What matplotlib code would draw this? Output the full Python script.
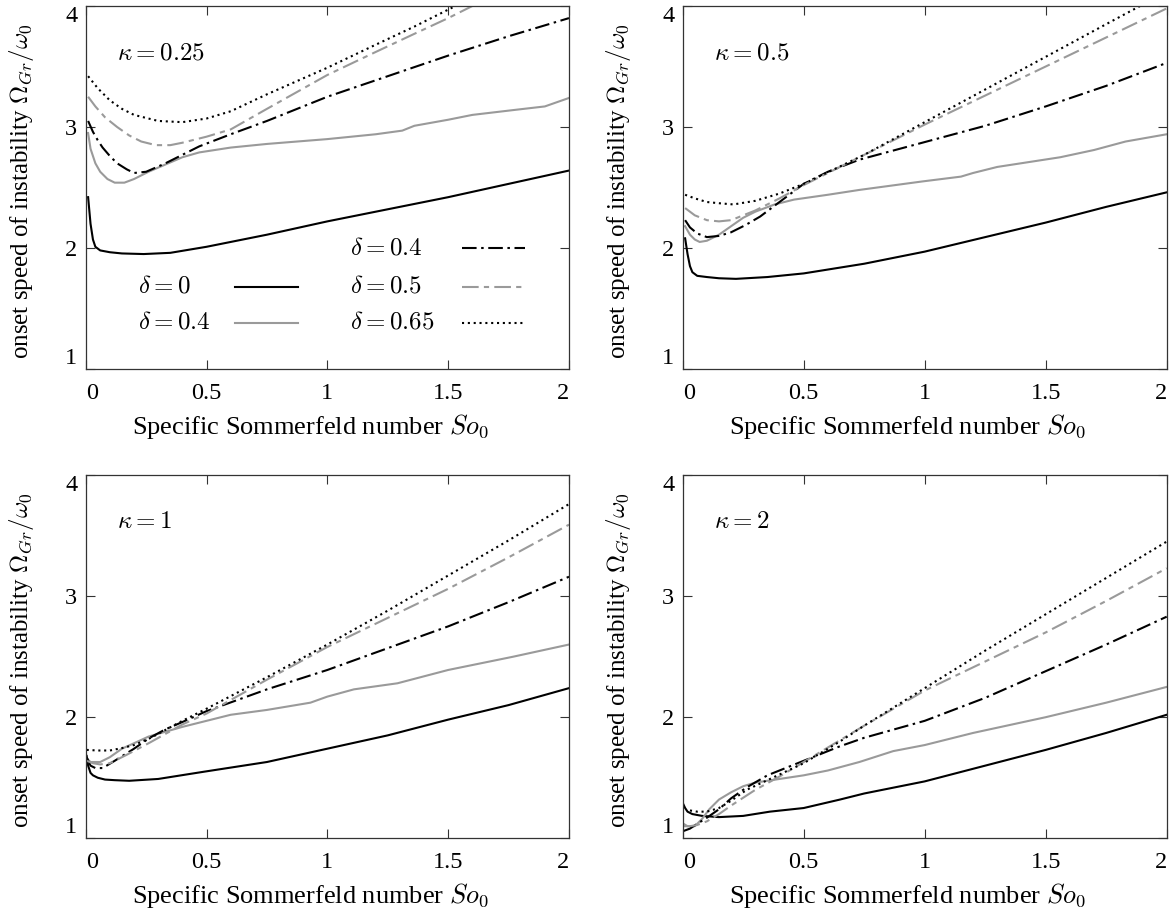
import numpy as np
import matplotlib
matplotlib.use("Agg")
import matplotlib.pyplot as plt

plt.rcParams["font.family"] = "serif"
plt.rcParams["font.serif"] = ["Liberation Serif", "DejaVu Serif"]
plt.rcParams["mathtext.fontset"] = "cm"

GRAY = "#9a9a9a"

# ---- kappa = 0.25 ----
k025_d0_x = [0.01, 0.02, 0.03, 0.04, 0.06, 0.1, 0.15, 0.24, 0.35, 0.5, 0.75, 1.0, 1.25, 1.5, 1.75, 2.0]
k025_d0_y = [2.42, 2.2, 2.07, 2.01, 1.98, 1.965, 1.955, 1.95, 1.96, 2.01, 2.11, 2.22, 2.32, 2.42, 2.53, 2.64]
k025_d04_x = [0.01, 0.02, 0.04, 0.06, 0.09, 0.12, 0.16, 0.2, 0.26, 0.33, 0.4, 0.47, 0.6, 0.75, 1.0, 1.2, 1.31, 1.36, 1.5, 1.6, 1.77, 1.9, 2.0]
k025_d04_y = [2.95, 2.82, 2.7, 2.63, 2.57, 2.54, 2.54, 2.57, 2.63, 2.69, 2.75, 2.79, 2.83, 2.86, 2.9, 2.94, 2.97, 3.01, 3.06, 3.1, 3.14, 3.17, 3.24]
k025_d04b_x = [0.01, 0.03, 0.05, 0.07, 0.1, 0.13, 0.17, 0.2, 0.25, 0.33, 0.4, 0.47, 0.6, 0.75, 1.0, 1.25, 1.5, 1.75, 2.0]
k025_d04b_y = [3.05, 2.96, 2.89, 2.83, 2.76, 2.70, 2.65, 2.62, 2.63, 2.70, 2.77, 2.84, 2.94, 3.05, 3.25, 3.42, 3.59, 3.75, 3.9]
k025_d05_x = [0.01, 0.04, 0.08, 0.13, 0.18, 0.23, 0.29, 0.35, 0.4, 0.5, 0.6, 0.75, 1.0, 1.2, 1.36, 1.5, 1.6]
k025_d05_y = [3.25, 3.17, 3.08, 3.0, 2.93, 2.88, 2.85, 2.85, 2.87, 2.92, 2.98, 3.15, 3.43, 3.62, 3.77, 3.9, 4.0]
k025_d065_x = [0.01, 0.05, 0.1, 0.15, 0.2, 0.3, 0.4, 0.5, 0.6, 0.75, 1.0, 1.2, 1.36, 1.53]
k025_d065_y = [3.42, 3.32, 3.22, 3.15, 3.10, 3.05, 3.04, 3.07, 3.13, 3.27, 3.49, 3.68, 3.83, 4.0]

# ---- kappa = 0.5 ----
k05_d0_x = [0.01, 0.02, 0.03, 0.04, 0.06, 0.1, 0.15, 0.22, 0.35, 0.5, 0.75, 1.0, 1.25, 1.5, 1.75, 2.0]
k05_d0_y = [2.08, 1.95, 1.85, 1.80, 1.77, 1.76, 1.75, 1.745, 1.76, 1.79, 1.87, 1.97, 2.09, 2.21, 2.34, 2.46]
k05_d04_x = [0.01, 0.03, 0.05, 0.07, 0.1, 0.15, 0.2, 0.25, 0.3, 0.38, 0.46, 0.6, 0.73, 0.99, 1.15, 1.2, 1.3, 1.56, 1.7, 1.83, 2.0]
k05_d04_y = [2.18, 2.11, 2.07, 2.05, 2.06, 2.11, 2.18, 2.25, 2.30, 2.36, 2.40, 2.44, 2.48, 2.55, 2.59, 2.62, 2.67, 2.75, 2.81, 2.88, 2.94]
k05_d04b_x = [0.01, 0.03, 0.06, 0.1, 0.15, 0.2, 0.26, 0.32, 0.4, 0.5, 0.6, 0.73, 0.99, 1.25, 1.5, 1.75, 2.0]
k05_d04b_y = [2.23, 2.17, 2.12, 2.09, 2.10, 2.13, 2.19, 2.26, 2.38, 2.53, 2.63, 2.73, 2.87, 3.01, 3.17, 3.34, 3.53]
k05_d05_x = [0.01, 0.05, 0.1, 0.15, 0.2, 0.3, 0.4, 0.5, 0.75, 1.0, 1.25, 1.5, 1.75, 2.0]
k05_d05_y = [2.33, 2.27, 2.23, 2.22, 2.23, 2.31, 2.41, 2.52, 2.77, 3.02, 3.26, 3.50, 3.74, 3.98]
k05_d065_x = [0.01, 0.05, 0.1, 0.15, 0.21, 0.3, 0.4, 0.5, 0.75, 1.0, 1.25, 1.5, 1.75, 1.89]
k05_d065_y = [2.44, 2.41, 2.38, 2.37, 2.36, 2.39, 2.45, 2.53, 2.77, 3.04, 3.31, 3.58, 3.85, 4.0]

# ---- kappa = 1 ----
k1_d0_x = [0.004, 0.01, 0.02, 0.03, 0.05, 0.08, 0.12, 0.18, 0.3, 0.49, 0.75, 1.0, 1.25, 1.5, 1.75, 2.0]
k1_d0_y = [1.68, 1.6, 1.54, 1.52, 1.5, 1.485, 1.48, 1.475, 1.49, 1.55, 1.63, 1.74, 1.85, 1.98, 2.1, 2.24]
k1_d04_x = [0.004, 0.02, 0.06, 0.1, 0.15, 0.2, 0.26, 0.33, 0.4, 0.5, 0.6, 0.75, 0.93, 1.0, 1.11, 1.29, 1.5, 1.77, 2.0]
k1_d04_y = [1.66, 1.63, 1.63, 1.67, 1.74, 1.785, 1.84, 1.88, 1.92, 1.97, 2.02, 2.06, 2.12, 2.17, 2.23, 2.28, 2.39, 2.5, 2.6]
k1_d04b_x = [0.004, 0.02, 0.04, 0.07, 0.12, 0.2, 0.265, 0.33, 0.4, 0.5, 0.75, 1.0, 1.25, 1.5, 1.75, 2.0]
k1_d04b_y = [1.67, 1.6, 1.58, 1.58, 1.64, 1.74, 1.83, 1.90, 1.96, 2.05, 2.23, 2.39, 2.57, 2.75, 2.95, 3.16]
k1_d05_x = [0.004, 0.03, 0.06, 0.1, 0.17, 0.265, 0.4, 0.5, 0.75, 1.0, 1.25, 1.5, 1.75, 2.0]
k1_d05_y = [1.64, 1.62, 1.61, 1.62, 1.69, 1.79, 1.94, 2.03, 2.31, 2.58, 2.82, 3.06, 3.32, 3.59]
k1_d065_x = [0.004, 0.05, 0.1, 0.15, 0.2, 0.27, 0.33, 0.4, 0.5, 0.75, 1.0, 1.25, 1.5, 1.75, 2.0]
k1_d065_y = [1.73, 1.725, 1.725, 1.745, 1.77, 1.83, 1.895, 1.97, 2.07, 2.33, 2.60, 2.88, 3.17, 3.46, 3.76]

# ---- kappa = 2 ----
k2_d0_x = [0.003, 0.01, 0.02, 0.04, 0.08, 0.15, 0.25, 0.36, 0.5, 0.65, 0.75, 1.0, 1.25, 1.5, 1.75, 2.0]
k2_d0_y = [1.28, 1.25, 1.22, 1.2, 1.185, 1.175, 1.185, 1.22, 1.25, 1.32, 1.37, 1.47, 1.60, 1.73, 1.87, 2.02]
k2_d04_x = [0.003, 0.02, 0.05, 0.08, 0.11, 0.15, 0.2, 0.25, 0.3, 0.4, 0.5, 0.6, 0.73, 0.87, 1.0, 1.2, 1.5, 1.75, 2.0]
k2_d04_y = [1.12, 1.10, 1.10, 1.16, 1.24, 1.32, 1.38, 1.43, 1.46, 1.49, 1.52, 1.56, 1.63, 1.72, 1.77, 1.87, 2.0, 2.12, 2.25]
k2_d04b_x = [0.003, 0.03, 0.06, 0.1, 0.15, 0.2, 0.264, 0.35, 0.5, 0.65, 0.75, 1.0, 1.25, 1.5, 1.75, 2.0]
k2_d04b_y = [1.06, 1.08, 1.12, 1.17, 1.24, 1.33, 1.42, 1.52, 1.64, 1.76, 1.83, 1.97, 2.16, 2.38, 2.60, 2.83]
k2_d05_x = [0.003, 0.03, 0.06, 0.1, 0.15, 0.2, 0.3, 0.4, 0.5, 0.75, 1.0, 1.25, 1.5, 1.75, 2.0]
k2_d05_y = [1.10, 1.10, 1.11, 1.14, 1.20, 1.27, 1.40, 1.51, 1.63, 1.93, 2.22, 2.46, 2.70, 2.96, 3.23]
k2_d065_x = [0.03, 0.06, 0.1, 0.15, 0.2, 0.264, 0.35, 0.5, 0.65, 0.75, 1.0, 1.25, 1.5, 1.75, 2.0]
k2_d065_y = [1.23, 1.22, 1.22, 1.25, 1.31, 1.40, 1.48, 1.62, 1.80, 1.93, 2.24, 2.55, 2.85, 3.15, 3.45]

kappa_labels = [r"$\kappa = 0.25$", r"$\kappa = 0.5$", r"$\kappa = 1$", r"$\kappa = 2$"]
delta_labels = [r"$\delta = 0$", r"$\delta = 0.4$", r"$\delta = 0.4$", r"$\delta = 0.5$", r"$\delta = 0.65$"]
x_ticks = [0, 0.5, 1, 1.5, 2]
x_ticklabels = ["0", "0.5", "1", "1.5", "2"]
y_ticks = [1, 2, 3, 4]
y_ticklabels = ["1", "2", "3", "4"]

panels = [
    [(k025_d0_x, k025_d0_y), (k025_d04_x, k025_d04_y), (k025_d04b_x, k025_d04b_y),
     (k025_d05_x, k025_d05_y), (k025_d065_x, k025_d065_y)],
    [(k05_d0_x, k05_d0_y), (k05_d04_x, k05_d04_y), (k05_d04b_x, k05_d04b_y),
     (k05_d05_x, k05_d05_y), (k05_d065_x, k05_d065_y)],
    [(k1_d0_x, k1_d0_y), (k1_d04_x, k1_d04_y), (k1_d04b_x, k1_d04b_y),
     (k1_d05_x, k1_d05_y), (k1_d065_x, k1_d065_y)],
    [(k2_d0_x, k2_d0_y), (k2_d04_x, k2_d04_y), (k2_d04b_x, k2_d04b_y),
     (k2_d05_x, k2_d05_y), (k2_d065_x, k2_d065_y)],
]

# line styles: solid black, solid gray, dash-dot black, dash-dot gray, dotted black
styles = [
    dict(color="black", ls="-"),
    dict(color=GRAY, ls="-"),
    dict(color="black", ls=(0, (7, 2.2, 1.2, 2.2))),
    dict(color=GRAY, ls=(0, (8, 2.5, 2.5, 2.5))),
    dict(color="black", ls=(0, (1, 1.8))),
]
LW = 1.5

W, H = 1173, 917
pos = [(85.7, 6, 569, 369), (682.7, 6, 1166.7, 369),
       (85.7, 475, 569, 838.3), (682.7, 475, 1166.7, 838.3)]

fig = plt.figure(figsize=(W / 100, H / 100), dpi=100)
axes = []
for (l, t, r, b) in pos:
    axes.append(fig.add_axes([l / W, 1 - b / H, (r - l) / W, (b - t) / H]))

for i, ax in enumerate(axes):
    for (xs, ys), st in zip(panels[i], styles):
        ax.plot(xs, ys, lw=LW, **st)
    ax.set_xlim(0, 2)
    ax.set_ylim(1, 4)
    ax.set_xticks(x_ticks)
    ax.set_xticklabels(x_ticklabels)
    ax.set_yticks(y_ticks)
    ax.set_yticklabels(y_ticklabels)
    ax.tick_params(direction="in", top=True, right=True, length=6.5, width=0.8,
                   color="#333333", labelsize=17.5)
    ax.tick_params(axis="x", pad=10)
    ax.tick_params(axis="y", pad=6)
    xt = ax.get_xticklabels()
    xt[0].set_ha("left"); xt[-1].set_ha("right")
    yt = ax.get_yticklabels()
    yt[0].set_va("bottom"); yt[-1].set_va("top")
    for s in ax.spines.values():
        s.set_linewidth(0.9)
        s.set_color("#333333")
    ax.set_xlabel(r"Specific Sommerfeld number $So_0$", fontsize=19)
    ax.xaxis.set_label_coords(0.464, -0.118)
    ax.set_ylabel(r"onset speed of instability $\Omega_{Gr}/\omega_0$", fontsize=18)
    ax.yaxis.set_label_coords(-0.103, 0.49)
    ax.text(0.065, 0.87, kappa_labels[i], transform=ax.transAxes,
            ha="left", va="center", fontsize=18)

# key in the first panel, drawn like the gnuplot key
ax = axes[0]
key_rows = [(0.108, 0.309, 0.226), (0.108, 0.309, 0.127),
            (0.547, 0.779, 0.333), (0.547, 0.779, 0.226), (0.547, 0.779, 0.127)]
for k, (tx, lx, yy) in enumerate(key_rows):
    ax.text(tx, yy, delta_labels[k], transform=ax.transAxes,
            ha="left", va="center", fontsize=18)
    ax.plot([lx, lx + 0.13], [yy, yy], transform=ax.transAxes, lw=LW, **styles[k])

fig.savefig("out.png", dpi=100)
